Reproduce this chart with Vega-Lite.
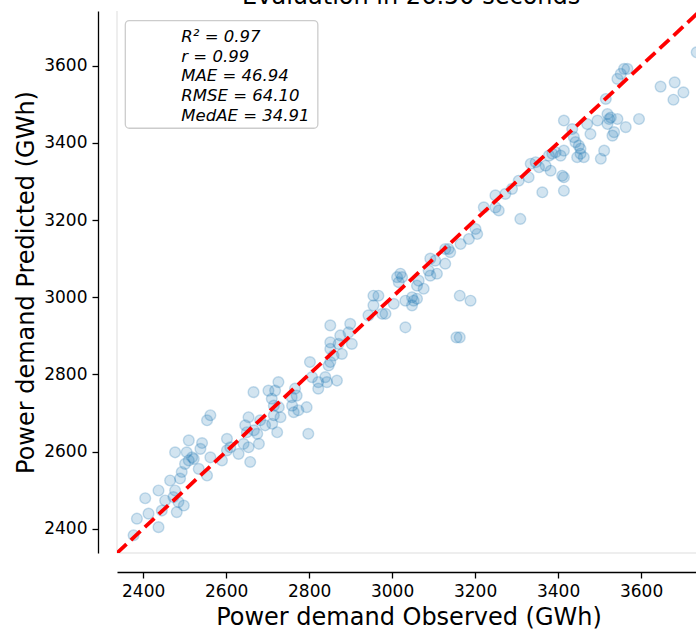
{
  "$schema": "https://vega.github.io/schema/vega-lite/v6.json",
  "autosize": {"type": "none"},
  "padding": {"left": 117, "top": 11, "right": 0, "bottom": 76},
  "width": 583,
  "height": 542,
  "background": "white",
  "config": {
    "view": {"stroke": null},
    "font": "DejaVu Sans",
    "axis": {
      "grid": false,
      "domainColor": "black",
      "domainWidth": 1.3,
      "tickColor": "black",
      "tickWidth": 1.3,
      "tickSize": 6,
      "labelFont": "DejaVu Sans",
      "labelFontSize": 17,
      "labelColor": "black",
      "labelPadding": 5,
      "titleFont": "DejaVu Sans",
      "titleFontSize": 24,
      "titleFontWeight": "normal",
      "titleColor": "black",
      "offset": 19,
      "format": "d"
    }
  },
  "datasets": {
    "points": [
      {"obs":2562,"pred":2694},{"obs":2554,"pred":2681},{"obs":2510,"pred":2629},{"obs":2477,"pred":2598},{"obs":2542,"pred":2622},
      {"obs":2538,"pred":2607},{"obs":2505,"pred":2598},{"obs":2518,"pred":2585},{"obs":2510,"pred":2577},{"obs":2501,"pred":2568},
      {"obs":2522,"pred":2581},{"obs":2493,"pred":2547},{"obs":2489,"pred":2530},{"obs":2465,"pred":2525},{"obs":2534,"pred":2555},
      {"obs":2554,"pred":2538},{"obs":2562,"pred":2585},{"obs":2590,"pred":2577},{"obs":2602,"pred":2633},{"obs":2610,"pred":2611},
      {"obs":2602,"pred":2603},{"obs":2630,"pred":2594},{"obs":2646,"pred":2668},{"obs":2654,"pred":2689},{"obs":2650,"pred":2650},
      {"obs":2667,"pred":2655},{"obs":2675,"pred":2646},{"obs":2642,"pred":2620},{"obs":2654,"pred":2611},{"obs":2679,"pred":2620},
      {"obs":2658,"pred":2573},{"obs":2682,"pred":2681},{"obs":2694,"pred":2668},{"obs":2711,"pred":2672},{"obs":2715,"pred":2694},
      {"obs":2723,"pred":2650},{"obs":2731,"pred":2689},{"obs":2715,"pred":2719},{"obs":2727,"pred":2715},{"obs":2759,"pred":2719},
      {"obs":2763,"pred":2702},{"obs":2437,"pred":2499},{"obs":2405,"pred":2479},{"obs":2477,"pred":2499},{"obs":2453,"pred":2473},
      {"obs":2473,"pred":2482},{"obs":2485,"pred":2469},{"obs":2498,"pred":2460},{"obs":2481,"pred":2443},{"obs":2445,"pred":2447},
      {"obs":2413,"pred":2439},{"obs":2385,"pred":2426},{"obs":2437,"pred":2404},{"obs":2377,"pred":2383},{"obs":2798,"pred":2646},
      {"obs":2666,"pred":2754},{"obs":2702,"pred":2758},{"obs":2726,"pred":2780},{"obs":2718,"pred":2758},{"obs":2710,"pred":2737},
      {"obs":2766,"pred":2763},{"obs":2770,"pred":2745},{"obs":2774,"pred":2707},{"obs":2794,"pred":2715},{"obs":2758,"pred":2741},
      {"obs":2802,"pred":2832},{"obs":2807,"pred":2793},{"obs":2822,"pred":2780},{"obs":2822,"pred":2763},{"obs":2839,"pred":2793},
      {"obs":2843,"pred":2780},{"obs":2867,"pred":2784},{"obs":2847,"pred":2823},{"obs":2851,"pred":2832},{"obs":2851,"pred":2866},
      {"obs":2851,"pred":2883},{"obs":2859,"pred":2849},{"obs":2871,"pred":2879},{"obs":2879,"pred":2853},{"obs":2851,"pred":2927},
      {"obs":2875,"pred":2901},{"obs":2895,"pred":2909},{"obs":2899,"pred":2931},{"obs":2903,"pred":2879},{"obs":2943,"pred":2953},
      {"obs":2955,"pred":3004},{"obs":2967,"pred":3004},{"obs":2955,"pred":2979},{"obs":2976,"pred":2957},{"obs":2984,"pred":2957},
      {"obs":3004,"pred":2983},{"obs":3032,"pred":2922},{"obs":3032,"pred":2991},{"obs":3048,"pred":3000},{"obs":3052,"pred":2991},
      {"obs":3060,"pred":2996},{"obs":3048,"pred":2979},{"obs":3012,"pred":3052},{"obs":3020,"pred":3061},{"obs":3024,"pred":3052},
      {"obs":3016,"pred":3039},{"obs":3064,"pred":3043},{"obs":3060,"pred":3030},{"obs":3076,"pred":3022},{"obs":3088,"pred":3069},
      {"obs":3092,"pred":3056},{"obs":3108,"pred":3061},{"obs":3092,"pred":3100},{"obs":3104,"pred":3095},{"obs":3128,"pred":3087},
      {"obs":3128,"pred":3125},{"obs":3136,"pred":3125},{"obs":3140,"pred":3117},{"obs":3165,"pred":3138},{"obs":3185,"pred":3151},
      {"obs":3201,"pred":3177},{"obs":3205,"pred":3164},{"obs":3221,"pred":3233},{"obs":3249,"pred":3233},{"obs":3257,"pred":3225},
      {"obs":3309,"pred":3203},{"obs":3163,"pred":3004},{"obs":3189,"pred":2991},{"obs":3155,"pred":2896},{"obs":3163,"pred":2896},
      {"obs":3249,"pred":3264},{"obs":3273,"pred":3268},{"obs":3289,"pred":3281},{"obs":3305,"pred":3302},{"obs":3329,"pred":3311},
      {"obs":3334,"pred":3346},{"obs":3346,"pred":3350},{"obs":3354,"pred":3337},{"obs":3362,"pred":3272},{"obs":3370,"pred":3341},
      {"obs":3382,"pred":3328},{"obs":3378,"pred":3367},{"obs":3386,"pred":3372},{"obs":3394,"pred":3376},{"obs":3406,"pred":3367},
      {"obs":3410,"pred":3315},{"obs":3414,"pred":3311},{"obs":3414,"pred":3276},{"obs":3414,"pred":3380},{"obs":3414,"pred":3458},
      {"obs":3434,"pred":3436},{"obs":3438,"pred":3415},{"obs":3442,"pred":3402},{"obs":3450,"pred":3393},{"obs":3454,"pred":3385},
      {"obs":3462,"pred":3363},{"obs":3446,"pred":3363},{"obs":3454,"pred":3372},{"obs":3470,"pred":3449},{"obs":3478,"pred":3423},
      {"obs":3495,"pred":3458},{"obs":3511,"pred":3380},{"obs":3503,"pred":3359},{"obs":3515,"pred":3514},{"obs":3519,"pred":3475},
      {"obs":3523,"pred":3462},{"obs":3527,"pred":3466},{"obs":3519,"pred":3449},{"obs":3535,"pred":3428},{"obs":3531,"pred":3419},
      {"obs":3543,"pred":3462},{"obs":3563,"pred":3441},{"obs":3595,"pred":3462},{"obs":3543,"pred":3566},{"obs":3551,"pred":3579},
      {"obs":3559,"pred":3592},{"obs":3567,"pred":3592},{"obs":3647,"pred":3546},{"obs":3681,"pred":3557},{"obs":3702,"pred":3531},
      {"obs":3678,"pred":3512},{"obs":3734,"pred":3635}
    ],
    "identity": [{"v": 2337}, {"v": 3742}],
    "stats": [{"lines": ["R² = 0.97", "r = 0.99", "MAE = 46.94", "RMSE = 64.10", "MedAE = 34.91"]}],
    "heading": [{"label": "Evaluation in 26.50 seconds"}]
  },
  "layer": [
    {
      "data": {"name": "points"},
      "mark": {"type": "point", "shape": "circle", "filled": true, "size": 115, "color": "#1f77b4", "fillOpacity": 0.2, "strokeOpacity": 0.25, "strokeWidth": 1.4, "stroke": "#1f77b4"},
      "encoding": {
        "x": {"field": "obs", "type": "quantitative", "scale": {"domain": [2337, 3742], "nice": false, "zero": false},
              "axis": {"title": "Power demand Observed (GWh)", "values": [2400, 2600, 2800, 3000, 3200, 3400, 3600], "titlePadding": 6}},
        "y": {"field": "pred", "type": "quantitative", "scale": {"domain": [2337, 3742], "nice": false, "zero": false},
              "axis": {"title": "Power demand Predicted (GWh)", "values": [2400, 2600, 2800, 3000, 3200, 3400, 3600], "titlePadding": 5}}
      }
    },
    {
      "data": {"values": [{}]},
      "mark": {"type": "rule", "color": "#dddddd", "strokeWidth": 1},
      "encoding": {
        "x": {"datum": 2337, "type": "quantitative"},
        "y": {"datum": 2337, "type": "quantitative"},
        "y2": {"datum": 3742}
      }
    },
    {
      "data": {"values": [{}]},
      "mark": {"type": "rule", "color": "#dddddd", "strokeWidth": 1},
      "encoding": {
        "y": {"datum": 2337, "type": "quantitative"},
        "x": {"datum": 2337, "type": "quantitative"},
        "x2": {"datum": 3742}
      }
    },
    {
      "data": {"name": "identity"},
      "mark": {"type": "line", "color": "red", "strokeWidth": 3.8, "strokeDash": [13, 6], "clip": true},
      "encoding": {
        "x": {"field": "v", "type": "quantitative"},
        "y": {"field": "v", "type": "quantitative"}
      }
    },
    {
      "data": {"values": [{}]},
      "mark": {"type": "rect", "fill": "white", "fillOpacity": 0.8, "stroke": "#cccccc", "strokeWidth": 1.3, "cornerRadius": 4},
      "encoding": {
        "x": {"datum": 2357, "type": "quantitative"},
        "x2": {"datum": 2821},
        "y": {"datum": 3717, "type": "quantitative"},
        "y2": {"datum": 3438}
      }
    },
    {
      "data": {"name": "stats"},
      "mark": {"type": "text", "align": "left", "baseline": "alphabetic", "fontSize": 16.5, "fontStyle": "italic", "lineHeight": 19.6, "color": "black", "font": "DejaVu Sans"},
      "encoding": {
        "x": {"datum": 2492, "type": "quantitative"},
        "y": {"datum": 3661, "type": "quantitative"},
        "text": {"field": "lines"}
      }
    },
    {
      "data": {"name": "heading"},
      "mark": {"type": "text", "align": "center", "baseline": "alphabetic", "fontSize": 24, "color": "black", "font": "DejaVu Sans"},
      "encoding": {
        "x": {"datum": 3046, "type": "quantitative"},
        "y": {"datum": 3761, "type": "quantitative"},
        "text": {"field": "label"}
      }
    }
  ]
}
